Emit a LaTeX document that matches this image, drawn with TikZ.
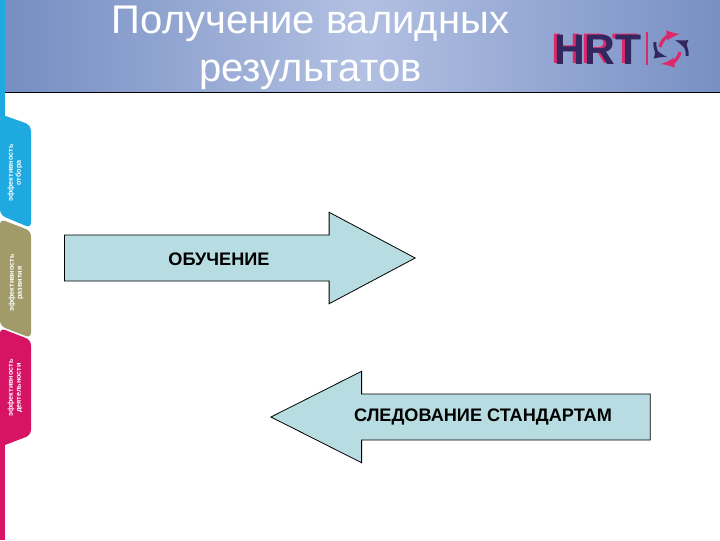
\documentclass[tikz,border=0pt]{standalone}
\usepackage{fontspec}
\setmainfont{Liberation Sans}
\usetikzlibrary{shapes,arrows,positioning}
\definecolor{headl}{RGB}{118, 142, 194}
\definecolor{headm}{RGB}{178, 192, 226}
\definecolor{headr}{RGB}{120, 144, 196}
\definecolor{tabblue}{RGB}{30, 170, 225}
\definecolor{tabolive}{RGB}{160, 155, 105}
\definecolor{tabpink}{RGB}{215, 20, 100}
\definecolor{arrowfill}{RGB}{183, 220, 225}
\definecolor{logodark}{RGB}{50, 40, 95}
\definecolor{logopink}{RGB}{222, 40, 105}
\tikzstyle{blockarrow} = [single arrow, draw=black, line width=0.6pt, fill=arrowfill, inner sep=17pt, minimum height=263pt, minimum width=68pt, single arrow head extend=17pt, single arrow tip angle=56, single arrow head indent=0pt, anchor=tip]
\tikzstyle{arrowtext} = [font=\bfseries\fontsize{13.6}{15}\selectfont, text=black, inner sep=0pt]
\tikzstyle{tabtext} = [rotate=90, align=center, text=white, inner sep=0pt, font=\bfseries\fontsize{5.4}{6}\selectfont]
\tikzstyle{logotext} = [font=\bfseries\fontsize{32}{32}\selectfont, inner sep=0pt]
\tikzstyle{swirlpink} = [draw=logopink, line width=2.4pt]
\tikzstyle{swirldark} = [draw=logodark, line width=2.2pt, ->, >=latex]
\begin{document}
\begin{tikzpicture}[x=0.75pt, y=-0.75pt]
\useasboundingbox (0,0) rectangle (720,540);

% header =============================
\shade[left color=headl, right color=headr, middle color=headm] (5,0) rectangle (720,92);
\draw[black, line width=1.2pt] (5,92.5) -- (720,92.5);
\node[text=white, align=center, inner sep=0pt, font=\fontsize{30}{36.5}\selectfont] (title) at (310.5,48) {Получение валидных\\результатов};

% logo
\node[logotext, text=logopink] (hrtshadow) at (595,49) {HRT};
\node[logotext, text=logodark] (hrt) at (598,50) {HRT};
\draw[logopink, line width=0.8pt] (647,32) -- (647,65);
\draw[swirlpink, ->, >=latex] (660,47) .. controls (662,38) and (670,35) .. (680,34);
\draw[swirlpink, ->, >=latex] (680,52) .. controls (678,60) and (672,63) .. (661,64);
\draw[swirldark] (655,42) .. controls (654,50) and (659,55) .. (667,57);
\draw[swirldark] (687,56) .. controls (688,48) and (683,43) .. (675,40);

% side tabs =============================
\fill[tabblue] (0,0) rectangle (5,118);
\fill[tabpink] (0,440) rectangle (5,540);
\fill[tabblue, rounded corners=4pt] (0,114) -- (31,125) -- (31,228) -- (0,215) -- cycle;
\fill[tabolive, rounded corners=4pt] (0,219) -- (31,231) -- (31,338) -- (0,326) -- cycle;
\fill[tabpink, rounded corners=4pt] (0,328) -- (31,340) -- (31,435) -- (0,447) -- cycle;
\node[tabtext] (tab1) at (15,173) {эффективность\\отбора};
\node[tabtext] (tab2) at (16,283) {эффективность\\развития};
\node[tabtext] (tab3) at (15,388) {эффективность\\деятельности};

% arrows =============================
\node[blockarrow] (learn) at (416,258) {};
\node[blockarrow, shape border rotate=180, minimum height=284.5pt, single arrow tip angle=53.5] (follow) at (270,417) {};
\node[arrowtext] (learntext) at (219,259) {ОБУЧЕНИЕ};
\node[arrowtext] (followtext) at (483,417) {СЛЕДОВАНИЕ СТАНДАРТАМ};

\end{tikzpicture}
\end{document}
